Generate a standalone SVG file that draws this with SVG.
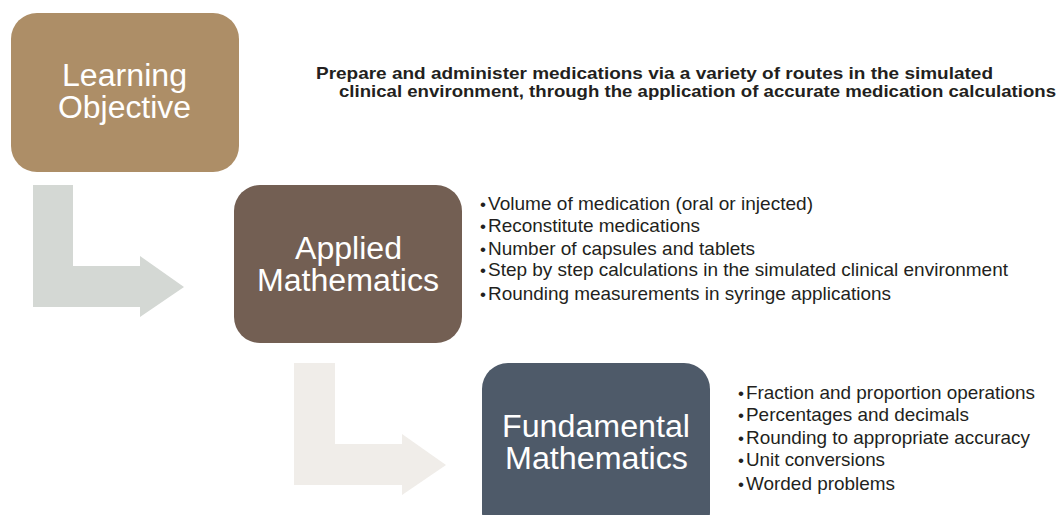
<svg xmlns="http://www.w3.org/2000/svg" width="1058" height="515" viewBox="0 0 1058 515">
  <style>
    .box-label { font-family: "Liberation Sans", Arial, sans-serif; font-size: 31px; fill: #ffffff; }
    .goal { font-family: "Liberation Sans", Arial, sans-serif; font-size: 16.5px; font-weight: bold; fill: #231f20; }
    .item { font-family: "Liberation Sans", Arial, sans-serif; font-size: 18.5px; fill: #231f20; }
    .dot { font-family: "Liberation Sans", Arial, sans-serif; font-size: 17px; fill: #231f20; }
  </style>
  <rect width="1058" height="515" fill="#ffffff"/>

  <!-- bent arrows linking the levels -->
  <g id="connectors">
    <path d="M33 185 H73 V266 H140 V256 L184 287 L140 317 V307 H33 Z" fill="#d4d8d4"/>
    <path d="M294 363 H335 V444 H402 V434 L446 465 L402 495 V485 H294 Z" fill="#f0ede9"/>
  </g>

  <g id="learning-objective">
    <rect x="11" y="13" width="228" height="159" rx="26" fill="#ad8e67"/>
    <text class="box-label" x="62" y="86" textLength="125" lengthAdjust="spacingAndGlyphs">Learning</text>
    <text class="box-label" x="58" y="118" textLength="133" lengthAdjust="spacingAndGlyphs">Objective</text>
  </g>

  <g id="objective-text">
    <text class="goal" x="316" y="79" textLength="677" lengthAdjust="spacingAndGlyphs">Prepare and administer medications via a variety of routes in the simulated</text>
    <text class="goal" x="339" y="97" textLength="717" lengthAdjust="spacingAndGlyphs">clinical environment, through the application of accurate medication calculations</text>
  </g>

  <g id="applied-mathematics">
    <rect x="234" y="185" width="228" height="158" rx="26" fill="#735f53"/>
    <text class="box-label" x="295" y="259" textLength="107" lengthAdjust="spacingAndGlyphs">Applied</text>
    <text class="box-label" x="257" y="291" textLength="182" lengthAdjust="spacingAndGlyphs">Mathematics</text>
  </g>

  <g id="applied-list">
    <text class="dot" x="480" y="210">•</text>
    <text class="item" x="488" y="210" textLength="325" lengthAdjust="spacingAndGlyphs">Volume of medication (oral or injected)</text>
    <text class="dot" x="480" y="232">•</text>
    <text class="item" x="488" y="232" textLength="212" lengthAdjust="spacingAndGlyphs">Reconstitute medications</text>
    <text class="dot" x="480" y="255">•</text>
    <text class="item" x="488" y="255" textLength="267" lengthAdjust="spacingAndGlyphs">Number of capsules and tablets</text>
    <text class="dot" x="480" y="276">•</text>
    <text class="item" x="488" y="276" textLength="520" lengthAdjust="spacingAndGlyphs">Step by step calculations in the simulated clinical environment</text>
    <text class="dot" x="480" y="300">•</text>
    <text class="item" x="488" y="300" textLength="403" lengthAdjust="spacingAndGlyphs">Rounding measurements in syringe applications</text>
  </g>

  <g id="fundamental-mathematics">
    <rect x="482" y="363" width="228" height="175" rx="26" fill="#4e5a69"/>
    <text class="box-label" x="502" y="437" textLength="188" lengthAdjust="spacingAndGlyphs">Fundamental</text>
    <text class="box-label" x="505" y="469" textLength="183" lengthAdjust="spacingAndGlyphs">Mathematics</text>
  </g>

  <g id="fundamental-list">
    <text class="dot" x="738" y="399">•</text>
    <text class="item" x="746" y="399" textLength="289" lengthAdjust="spacingAndGlyphs">Fraction and proportion operations</text>
    <text class="dot" x="738" y="421">•</text>
    <text class="item" x="746" y="421" textLength="223" lengthAdjust="spacingAndGlyphs">Percentages and decimals</text>
    <text class="dot" x="738" y="444">•</text>
    <text class="item" x="746" y="444" textLength="284" lengthAdjust="spacingAndGlyphs">Rounding to appropriate accuracy</text>
    <text class="dot" x="738" y="466">•</text>
    <text class="item" x="746" y="466" textLength="139" lengthAdjust="spacingAndGlyphs">Unit conversions</text>
    <text class="dot" x="738" y="490">•</text>
    <text class="item" x="746" y="490" textLength="149" lengthAdjust="spacingAndGlyphs">Worded problems</text>
  </g>
</svg>
